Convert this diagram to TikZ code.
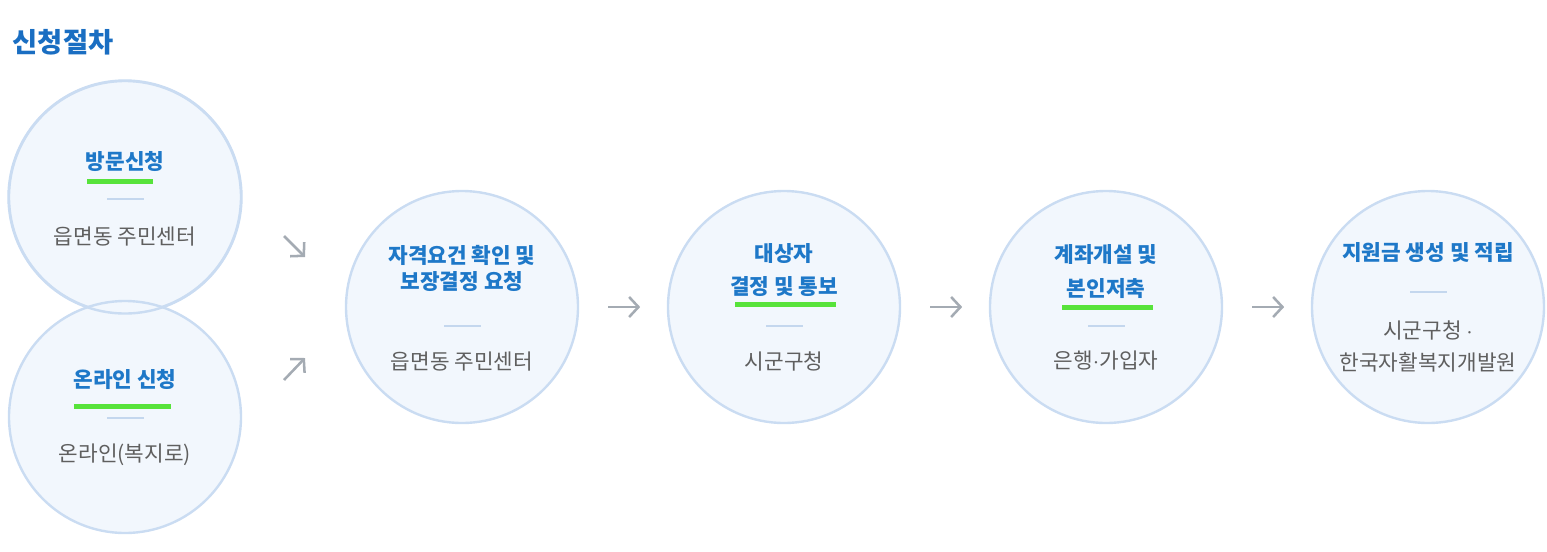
\documentclass[tikz,border=0pt]{standalone}
\usepackage{fontspec}
\setmainfont{Noto Sans CJK KR}
\usetikzlibrary{calc}
\usetikzlibrary{arrows.meta}
\usetikzlibrary{positioning}

\definecolor{titleblue}{HTML}{1A6EC2}
\definecolor{headblue}{HTML}{1E78C8}
\definecolor{whogray}{HTML}{5F5F5F}
\definecolor{ringblue}{HTML}{CADCF2}
\definecolor{ringfill}{HTML}{F2F7FD}
\definecolor{sepblue}{HTML}{C4D7EE}
\definecolor{arrowgray}{HTML}{A4ABB3}
\definecolor{bargreen}{HTML}{57E33B}

\tikzset{
  stage/.style={circle, draw=ringblue, line width=1.8pt, fill=ringfill,
                minimum size=174pt, inner sep=0pt},
  head/.style={text=headblue, font=\fontsize{16}{25}\selectfont\bfseries, align=center},
  who/.style={text=whogray, font=\fontsize{16}{24}\selectfont, align=center},
  greenbar/.style={draw=bargreen, line width=3.75pt},
  sepline/.style={draw=sepblue, line width=1.5pt},
  flow/.style={draw=arrowgray, line width=1.9pt, -{Straight Barb[length=7pt,width=15pt]}}
}

\begin{document}
\begin{tikzpicture}[x=0.75pt, y=-0.75pt]
  \useasboundingbox (0,0) rectangle (1547,551);

  \node[anchor=west, text=titleblue, font=\fontsize{20.5}{24}\selectfont\bfseries] (title) at (8,42) {신청절차};

  % circles
  \node[stage] (visit)   at (125,197)  {};
  \node[stage] (online)  at (125,417)  {};
  \draw[draw=ringblue, line width=1.8pt] (visit.center) circle[radius=116.5];
  \node[stage] (apply)   at (462,307)  {};
  \node[stage] (decide)  at (784,307)  {};
  \node[stage] (account) at (1106,307) {};
  \node[stage] (fund)    at (1428,307) {};

  % stage titles
  \node[head] (visitT)   at (125,162)    {방문신청};
  \node[head] (onlineT)  at (125,380)    {온라인 신청};
  \node[head, font=\fontsize{16}{20}\selectfont\bfseries] (applyT) at (462,268.5) {자격요건 확인 및\\보장결정 요청};
  \node[head] (decideT)  at (784,270)    {대상자\\결정 및 통보};
  \node[head] (accountT) at (1106,271.5) {계좌개설 및\\본인저축};
  \node[head] (fundT)    at (1428,253)   {지원금 생성 및 적립};

  % who handles it
  \node[who] (visitW)   at (125,237)  {읍면동 주민센터};
  \node[who] (onlineW)  at (125,455)  {온라인(복지로)};
  \node[who] (applyW)   at (462,362)  {읍면동 주민센터};
  \node[who] (decideW)  at (784,361)  {시군구청};
  \node[who] (accountW) at (1106,361) {은행$\cdot$가입자};
  \node[who] (fundW)    at (1428,346) {시군구청 $\cdot$\\한국자활복지개발원};

  % highlights
  \draw[greenbar] (87,181)   -- (153,181);
  \draw[greenbar] (74,406)   -- (171,406);
  \draw[greenbar] (735,304)  -- (836,304);
  \draw[greenbar] (1062,307) -- (1153,307);

  \foreach \n/\dy in {visit/2, online/1, apply/19, decide/19, account/19, fund/-15}
    \draw[sepline] ($(\n.center)+(-18,\dy)$) -- ++(37,0);

  % arrows
  \coordinate (inA) at (284,236);
  \coordinate (inB) at (284,380);
  \draw[flow] (inA) -- ++(21,21);
  \draw[flow] (inB) -- ++(21,-22);
  \draw[flow] ($(apply.east)+(29,0)$)   -- ++(32,0);
  \draw[flow] ($(decide.east)+(29,0)$)  -- ++(32,0);
  \draw[flow] ($(account.east)+(29,0)$) -- ++(32,0);
\end{tikzpicture}
\end{document}
